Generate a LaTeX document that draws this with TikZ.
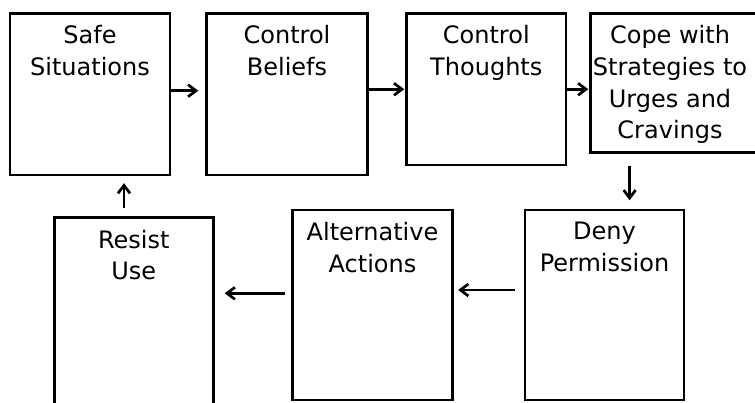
\documentclass[tikz,border=0pt]{standalone}
\usepackage{fontspec}
\setmainfont{DejaVu Sans}
\usetikzlibrary{arrows.meta}

\tikzset{
	stepbox/.style={draw, line width=2.8pt, rectangle, inner sep=0pt},
	lbl/.style={anchor=north, align=center, inner sep=0pt, yshift=-13.5pt,
		font=\fontsize{24}{31.7}\selectfont},
	arr/.style={line width=2.7pt, -{Straight Barb[length=8pt,width=12pt]}}
}

\begin{document}
\begin{tikzpicture}[x=1pt, y=-1pt]
	\useasboundingbox (0, 0) rectangle (755, 403);
	\clip (0, 0) rectangle (755, 403);
	% top row
	\node[stepbox, minimum width=160pt, minimum height=161.7pt, label={[lbl]north:Safe\\Situations}] (safe) at (90, 94.2) {};
	\node[stepbox, minimum width=160.6pt, minimum height=161.7pt, label={[lbl]north:Control\\Beliefs}] (beliefs) at (287, 94.2) {};
	\node[stepbox, minimum width=159.3pt, minimum height=151.7pt, label={[lbl]north:Control\\Thoughts}] (thoughts) at (486.3, 89.2) {};
	\node[stepbox, minimum width=171.3pt, minimum height=139pt, label={[lbl, xshift=-6.3pt]north:Cope with\\Strategies to\\Urges and\\Cravings}] (cope) at (676.35, 82.8) {};
	% bottom row
	\node[stepbox, minimum width=159pt, minimum height=190pt, label={[lbl]north:Deny\\Permission}] (deny) at (604.5, 305) {};
	\node[stepbox, minimum width=159.6pt, minimum height=190pt, label={[lbl]north:Alternative\\Actions}] (alt) at (372.5, 305) {};
	\node[stepbox, minimum width=159pt, minimum height=192.3pt, label={[lbl]north:Resist\\Use}] (resist) at (133.8, 313.85) {};

	\draw[arr, shorten >=7pt] ([yshift=3.5pt]safe.east) -- ([yshift=3.5pt]safe.east -| beliefs.west);
	\draw[arr, shorten >=1pt] (beliefs.east |- thoughts.west) -- (thoughts.west);
	\draw[arr, shorten >=1pt] (thoughts.east) -- (thoughts.east -| cope.west);
	\draw[arr, shorten <=12.7pt, shorten >=8.3pt] ([xshift=40.3pt]cope.south west) -- ([xshift=40.3pt]cope.south west |- deny.north);
	\draw[arr, shorten <=8.3pt, shorten >=4.4pt] ([yshift=15pt]deny.west) -- ([yshift=15pt]deny.west -| alt.east);
	\draw[arr, shorten <=6pt, shorten >=10pt] ([yshift=11.7pt]alt.west) -- ([yshift=11.7pt]alt.west -| resist.east);
	\draw[arr, shorten <=8.4pt, shorten >=6.7pt] ([xshift=-9.8pt]resist.north) -- ([xshift=-9.8pt]resist.north |- safe.south);
\end{tikzpicture}
\end{document}
